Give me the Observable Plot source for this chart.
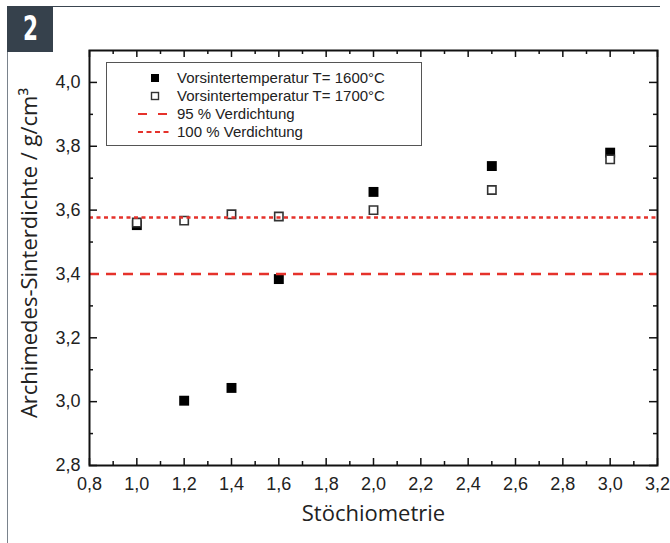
<!DOCTYPE html>
<html>
<head>
<meta charset="utf-8">
<script src="https://cdn.jsdelivr.net/npm/d3@7"></script>
<script src="https://cdn.jsdelivr.net/npm/@observablehq/plot@0.6"></script>
<style>
  html, body { margin: 0; padding: 0; background: #fff; }
  #wrap { position: relative; width: 670px; height: 543px; overflow: hidden; }
  #chart { position: absolute; left: 0; top: 0; }
  #border { position: absolute; left: 7px; top: 6px; width: 652px; height: 560px;
            border-top: 1.5px solid #3a4550; border-left: 1.5px solid #7a838c; }
  #badge { position: absolute; left: 7px; top: 6px; width: 46px; height: 46px; background: #36414c;
           color: #fff; font-family: "DejaVu Sans", sans-serif;
           font-weight: bold; font-size: 30px; line-height: 46px; text-align: center; overflow: hidden; }
  #badge span { display: inline-block; transform: scale(0.72, 1.15); transform-origin: 50% 55%; }
  #legend { position: absolute; left: 106px; top: 62px; width: 314px; height: 82px;
            border: 1.5px solid #555; background: #fff; box-sizing: content-box;
            font-family: "Liberation Sans", Arial, sans-serif; font-size: 15px; color: #222; }
  .row { position: absolute; left: 0; height: 18px; width: 100%; }
  .row span { position: absolute; left: 70px; top: 0; line-height: 18px; white-space: nowrap; }
  .row svg { position: absolute; left: 28px; top: 0; }
</style>
</head>
<body>
<div id="wrap">
  <div id="chart"></div>
  <div id="border"></div>
  <div id="badge"><span>2</span></div>
  <div id="legend"></div>
</div>
<script>
// ---- data ----
const stoich = [1.0, 1.2, 1.4, 1.6, 2.0, 2.5, 3.0];
const dichte1600 = [3.553, 3.003, 3.043, 3.384, 3.657, 3.738, 3.780];
const dichte1700 = [3.561, 3.567, 3.587, 3.580, 3.600, 3.663, 3.759];
const ref95 = 3.40;
const ref100 = 3.577;
const seriesNames = ["Vorsintertemperatur T= 1600°C", "Vorsintertemperatur T= 1700°C", "95 % Verdichtung", "100 % Verdichtung"];
const xMajor = [0.8, 1.0, 1.2, 1.4, 1.6, 1.8, 2.0, 2.2, 2.4, 2.6, 2.8, 3.0, 3.2];
const xMinor = [0.9, 1.1, 1.3, 1.5, 1.7, 1.9, 2.1, 2.3, 2.5, 2.7, 2.9, 3.1];
const yMajor = [2.8, 3.0, 3.2, 3.4, 3.6, 3.8, 4.0];
const yMinor = [2.9, 3.1, 3.3, 3.5, 3.7, 3.9];
const xTitle = "Stöchiometrie";
const yTitle = "Archimedes-Sinterdichte / g/cm³";

const pts1600 = stoich.map((s, i) => ({x: s, y: dichte1600[i]}));
const pts1700 = stoich.map((s, i) => ({x: s, y: dichte1700[i]}));

const W = 670, H = 543, mL = 89, mR = 13, mT = 50, mB = 78;
const fw = W - mL - mR, fh = H - mT - mB;
const fmt = d => d.toFixed(1).replace(".", ",");
const red = "#e5322b";
const tickFont = "'Liberation Sans', Arial, sans-serif";
const titleFont = "'Open Sans', sans-serif";

const plot = Plot.plot({
  width: W, height: H,
  marginLeft: mL, marginRight: mR, marginTop: mT, marginBottom: mB,
  x: {domain: [0.8, 3.2]},
  y: {domain: [2.8, 4.1]},
  style: {background: "transparent"},
  marks: [
    // ticks (inward)
    Plot.tickX(xMajor, {x: d => d, insetTop: fh - 7, stroke: "#111", strokeWidth: 1.5}),
    Plot.tickX(xMajor, {x: d => d, insetBottom: fh - 7, stroke: "#111", strokeWidth: 1.5}),
    Plot.tickX(xMinor, {x: d => d, insetTop: fh - 4, stroke: "#111", strokeWidth: 1.5}),
    Plot.tickX(xMinor, {x: d => d, insetBottom: fh - 4, stroke: "#111", strokeWidth: 1.5}),
    Plot.tickY(yMajor, {y: d => d, insetRight: fw - 8, stroke: "#111", strokeWidth: 1.5}),
    Plot.tickY(yMajor, {y: d => d, insetLeft: fw - 8, stroke: "#111", strokeWidth: 1.5}),
    Plot.tickY(yMinor, {y: d => d, insetRight: fw - 4, stroke: "#111", strokeWidth: 1.5}),
    Plot.tickY(yMinor, {y: d => d, insetLeft: fw - 4, stroke: "#111", strokeWidth: 1.5}),
    Plot.axisX({ticks: xMajor, tickSize: 0, tickPadding: 12, tickFormat: fmt, label: null,
      fontSize: 18, fontFamily: tickFont, color: "#222"}),
    Plot.axisY({ticks: yMajor, tickSize: 0, tickPadding: 9, tickFormat: fmt, label: null,
      fontSize: 18, fontFamily: tickFont, color: "#222"}),
    // data
    Plot.dot(pts1600, {x: "x", y: "y", symbol: "square", r: 5.6, fill: "#000", stroke: "none"}),
    Plot.dot(pts1700, {x: "x", y: "y", symbol: "square", r: 4.7, fill: "#fff", stroke: "#333", strokeWidth: 1.6}),
    // reference lines
    Plot.ruleY([ref95], {stroke: red, strokeWidth: 2.5, strokeDasharray: "10,7"}),
    Plot.ruleY([ref100], {stroke: red, strokeWidth: 2.5, strokeDasharray: "4,3.5"}),
    Plot.frame({stroke: "#111", strokeWidth: 2}),
    // titles
    Plot.text([xTitle], {text: d => d, frameAnchor: "bottom", dy: 48, fontSize: 22,
      fontFamily: titleFont, fill: "#222", lineAnchor: "middle", textAnchor: "middle"}),
    Plot.text([yTitle], {text: d => d, frameAnchor: "left", dx: -60, dy: -5, rotate: -90, fontSize: 22,
      fontFamily: titleFont, fill: "#222", lineAnchor: "middle", textAnchor: "middle"})
  ]
});
document.getElementById("chart").appendChild(plot);

// ---- legend ----
const legend = document.getElementById("legend");
const sym = [
  '<svg width="40" height="18"><rect x="16" y="5" width="8" height="8" fill="#000"/></svg>',
  '<svg width="40" height="18"><rect x="16.5" y="5.5" width="7" height="7" fill="#fff" stroke="#333" stroke-width="1.4"/></svg>',
  '<svg width="40" height="18"><line x1="3" x2="36" y1="9" y2="9" stroke="' + red + '" stroke-width="2" stroke-dasharray="9,11"/></svg>',
  '<svg width="40" height="18"><line x1="3" x2="36" y1="9" y2="9" stroke="' + red + '" stroke-width="2" stroke-dasharray="5,3.5"/></svg>'
];
seriesNames.forEach((name, i) => {
  const row = document.createElement("div");
  row.className = "row";
  row.style.top = (6 + i * 18) + "px";
  row.innerHTML = sym[i] + "<span>" + name + "</span>";
  legend.appendChild(row);
});
</script>
</body>
</html>
